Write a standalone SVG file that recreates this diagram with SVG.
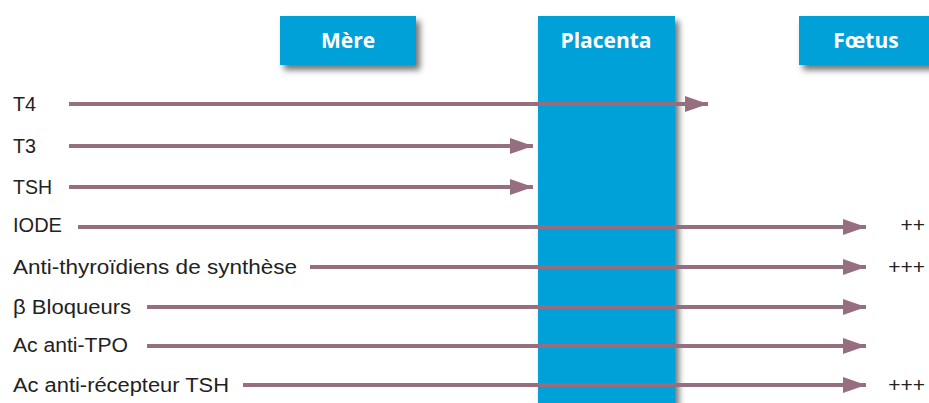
<svg xmlns="http://www.w3.org/2000/svg" width="929" height="403" viewBox="0 0 929 403">
<defs>
<filter id="sh" x="-20%" y="-20%" width="150%" height="160%">
<feDropShadow dx="4" dy="5" stdDeviation="3" flood-color="#000" flood-opacity="0.55"/>
</filter>
<marker id="ah" markerUnits="userSpaceOnUse" markerWidth="24" markerHeight="18" refX="23" refY="9" orient="auto">
<path d="M0,1 L23,9 L0,17 Z" fill="#956e80"/>
</marker>
<style>
.box{fill:#05a0d8;filter:url(#sh)}
.hd{font-family:"Open Sans","Liberation Sans",sans-serif;font-weight:bold;font-size:21px;fill:#fff;text-anchor:middle}
.lb{font-family:"Liberation Sans",sans-serif;font-size:20px;fill:#222}
.pl{font-family:"Liberation Sans",sans-serif;font-size:21px;fill:#222;text-anchor:end}
.ar{stroke:#956e80;stroke-width:4;fill:none;marker-end:url(#ah)}
</style>
</defs>
<g id="placenta"><rect class="box" x="538" y="16" width="137" height="400"/><text class="hd" x="606" y="48">Placenta</text></g>
<g id="mere"><rect class="box" x="280" y="16" width="136" height="49"/><text class="hd" x="348" y="48">Mère</text></g>
<g id="foetus"><rect class="box" x="799" y="16" width="140" height="49"/><text class="hd" x="866" y="48">Fœtus</text></g>
<g id="labels">
<text class="lb" x="13" y="111" textLength="23" lengthAdjust="spacingAndGlyphs">T4</text>
<text class="lb" x="13" y="153" textLength="23" lengthAdjust="spacingAndGlyphs">T3</text>
<text class="lb" x="13" y="194" textLength="39" lengthAdjust="spacingAndGlyphs">TSH</text>
<text class="lb" x="13" y="232" textLength="49" lengthAdjust="spacingAndGlyphs">IODE</text>
<text class="lb" x="13" y="274" textLength="284" lengthAdjust="spacingAndGlyphs">Anti-thyroïdiens de synthèse</text>
<text class="lb" x="13" y="314" textLength="118" lengthAdjust="spacingAndGlyphs">β Bloqueurs</text>
<text class="lb" x="13" y="352" textLength="115" lengthAdjust="spacingAndGlyphs">Ac anti-TPO</text>
<text class="lb" x="13" y="392" textLength="216" lengthAdjust="spacingAndGlyphs">Ac anti-récepteur TSH</text>
<text class="pl" x="925" y="232">++</text>
<text class="pl" x="925" y="274">+++</text>
<text class="pl" x="925" y="392">+++</text>
</g>
<g id="connectors">
<line class="ar" x1="69" y1="104" x2="708" y2="104"/>
<line class="ar" x1="69" y1="146" x2="533" y2="146"/>
<line class="ar" x1="69" y1="187" x2="533" y2="187"/>
<line class="ar" x1="78" y1="227" x2="866" y2="227"/>
<line class="ar" x1="310" y1="267" x2="866" y2="267"/>
<line class="ar" x1="147" y1="307" x2="866" y2="307"/>
<line class="ar" x1="147" y1="346" x2="866" y2="346"/>
<line class="ar" x1="243" y1="385" x2="866" y2="385"/>
</g>
</svg>
